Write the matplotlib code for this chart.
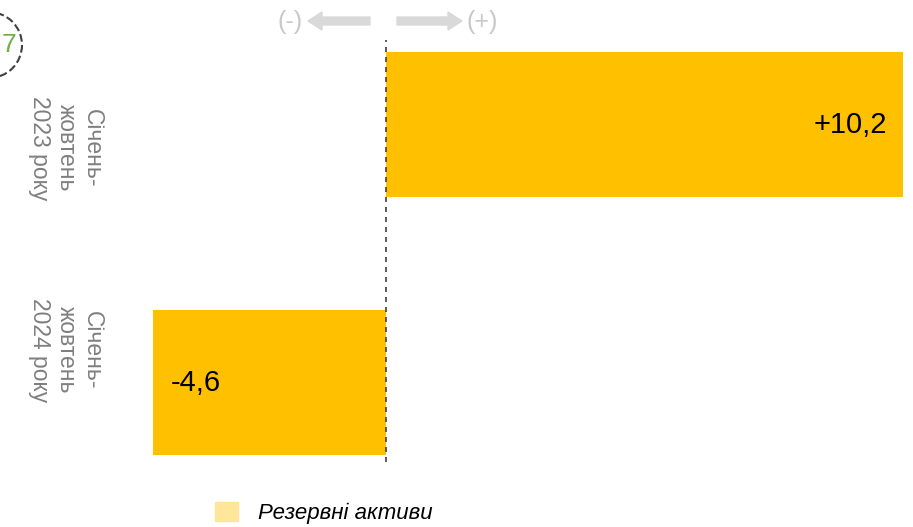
import matplotlib.pyplot as plt
from matplotlib.patches import Patch, Circle, FancyArrow

plt.rcParams['font.family'] = ['Liberation Sans', 'DejaVu Sans']

periods = ['Січень-\nжовтень\n2023 року', 'Січень-\nжовтень\n2024 року']
values = [10.2, -4.6]
value_labels = ['+10,2', '-4,6']
series_name = 'Резервні активи'

W, H = 913, 527
fig = plt.figure(figsize=(W / 100, H / 100), dpi=100)

# pixel helpers (origin top-left)
def fx(x):
    return x / W

def fy(y):
    return 1 - y / H

ax = fig.add_axes([fx(140), fy(462), 773 / W, 422 / H])
ypos = list(range(len(values)))
ax.barh(ypos, values, height=0.561, color='#FFC000', zorder=2)
ax.set_xlim(-4.857, 10.405)
ax.set_ylim(1.306, -0.327)
ax.axvline(0, color='#404040', lw=1.2, ls=(0, (3, 3)), zorder=3)
for s in ax.spines.values():
    s.set_visible(False)
ax.set_xticks([])
ax.set_yticks([])

for y, v, lab in zip(ypos, values, value_labels):
    if v >= 0:
        ax.annotate(lab, (v, y), xytext=(-11, 0), textcoords='offset points',
                    ha='right', va='center', fontsize=21, color='black')
    else:
        ax.annotate(lab, (v, y), xytext=(13, 0), textcoords='offset points',
                    ha='left', va='center', fontsize=21, color='black')

# period labels, rotated
for yc, txt in zip([148, 350], periods):
    fig.text(fx(66), fy(yc), txt, rotation=-90, ha='center', va='center',
             multialignment='center', fontsize=16.5, color='#7F7F7F',
             linespacing=1.2)

# direction arrows at the top
tr = fig.dpi_scale_trans
ay = (H - 21) / 100
fig.add_artist(FancyArrow(3.70, ay, -0.62, 0, width=0.08, head_width=0.18,
                          head_length=0.14, length_includes_head=True,
                          color='#D9D9D9', transform=tr))
fig.add_artist(FancyArrow(3.97, ay, 0.65, 0, width=0.08, head_width=0.18,
                          head_length=0.14, length_includes_head=True,
                          color='#D9D9D9', transform=tr))
fig.text(fx(290), fy(22), '(-)', ha='center', va='center', fontsize=18,
         color='#C8C8C8')
fig.text(fx(482), fy(22), '(+)', ha='center', va='center', fontsize=18,
         color='#C8C8C8')

# dashed circle marker, top-left
fig.add_artist(Circle((-0.11, (H - 45) / 100), 0.33, fill=False, ls='--',
                      lw=1.5, edgecolor='#404040', transform=tr))
fig.text(fx(9), fy(45), '7', ha='center', va='center', fontsize=19,
         color='#70AD47')

fig.legend(handles=[Patch(color='#FFE699', label=series_name)],
           loc='center left', bbox_to_anchor=(fx(215), fy(513)),
           frameon=False, prop={'style': 'italic', 'size': 16},
           handlelength=1.04, handleheight=0.95, handletextpad=0.9,
           borderpad=0, borderaxespad=0)

fig.savefig('out.png', dpi=100)
